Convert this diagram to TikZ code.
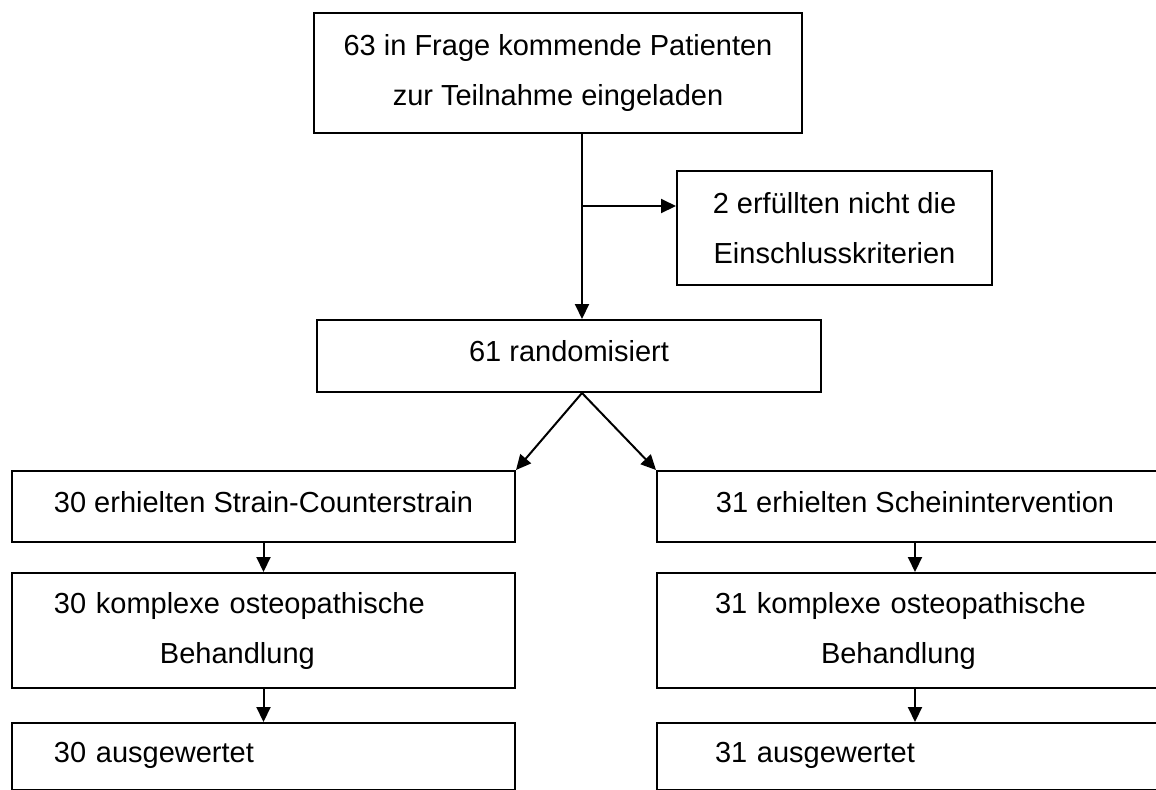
\documentclass[tikz,border=0pt]{standalone}
\usepackage{fontspec}
\setmainfont{Liberation Sans}
\usepackage{tikz}
\usetikzlibrary{arrows.meta}

\begin{document}
\begin{tikzpicture}[x=0.5pt, y=-0.5pt,
	box/.style={draw, rectangle, line width=1pt, inner ysep=2pt, font=\fontsize{14.5pt}{25pt}\selectfont},
	oneline/.style={text height=10pt, text depth=4.5pt},
	flow/.style={line width=1pt, -{Triangle[length=7.5pt, width=7pt]}}]
	\useasboundingbox (0,0) rectangle (1156,789);
	\clip (0,0) rectangle (1156,789);
	% Boxes
	\node[box, minimum width=244pt, minimum height=60pt, align=center] (invited) at (558,73) {63 in Frage kommende Patienten\\zur Teilnahme eingeladen};
	\node[box, minimum width=157.5pt, minimum height=57pt, align=center] (excluded) at (834.5,228) {2 erfüllten nicht die\\Einschlusskriterien};
	\node[box, oneline, minimum width=252pt, minimum height=36pt] (random) at (569,356) {61 randomisiert};
	\node[box, oneline, minimum width=251.5pt, minimum height=35.5pt] (scs) at (263.5,506.5) {30 erhielten Strain-Counterstrain};
	\node[box, oneline, minimum width=258pt, minimum height=35.5pt] (sham) at (915,506.5) {31 erhielten Scheinintervention};
	\node[box, inner xsep=21pt, text width=209.5pt, minimum height=57.5pt, align=left] (ostA) at (263.5,630.5) {30 komplexe osteopathische\\\hspace*{53pt}Behandlung};
	\node[box, inner xsep=29pt, text width=200pt, minimum height=57.5pt, align=left] (ostB) at (915,630.5) {31 komplexe osteopathische\\\hspace*{53pt}Behandlung};
	\node[box, oneline, inner xsep=21pt, text width=209.5pt, minimum height=33.5pt, align=left] (evalA) at (263.5,756.5) {30 ausgewertet};
	\node[box, oneline, inner xsep=29pt, text width=200pt, minimum height=33.5pt, align=left] (evalB) at (915,756.5) {31 ausgewertet};
	\coordinate (split) at (582,206);
	% Arrows
	\draw[flow] (invited.south -| split) -- (random.north -| split);
	\draw[flow] (split) -- (split -| excluded.west);
	\draw[flow] (random.south -| split) -- (scs.north east);
	\draw[flow] (random.south -| split) -- (sham.north west);
	\draw[flow] (scs) -- (ostA);
	\draw[flow] (sham) -- (ostB);
	\draw[flow] (ostA) -- (evalA);
	\draw[flow] (ostB) -- (evalB);
\end{tikzpicture}
\end{document}
